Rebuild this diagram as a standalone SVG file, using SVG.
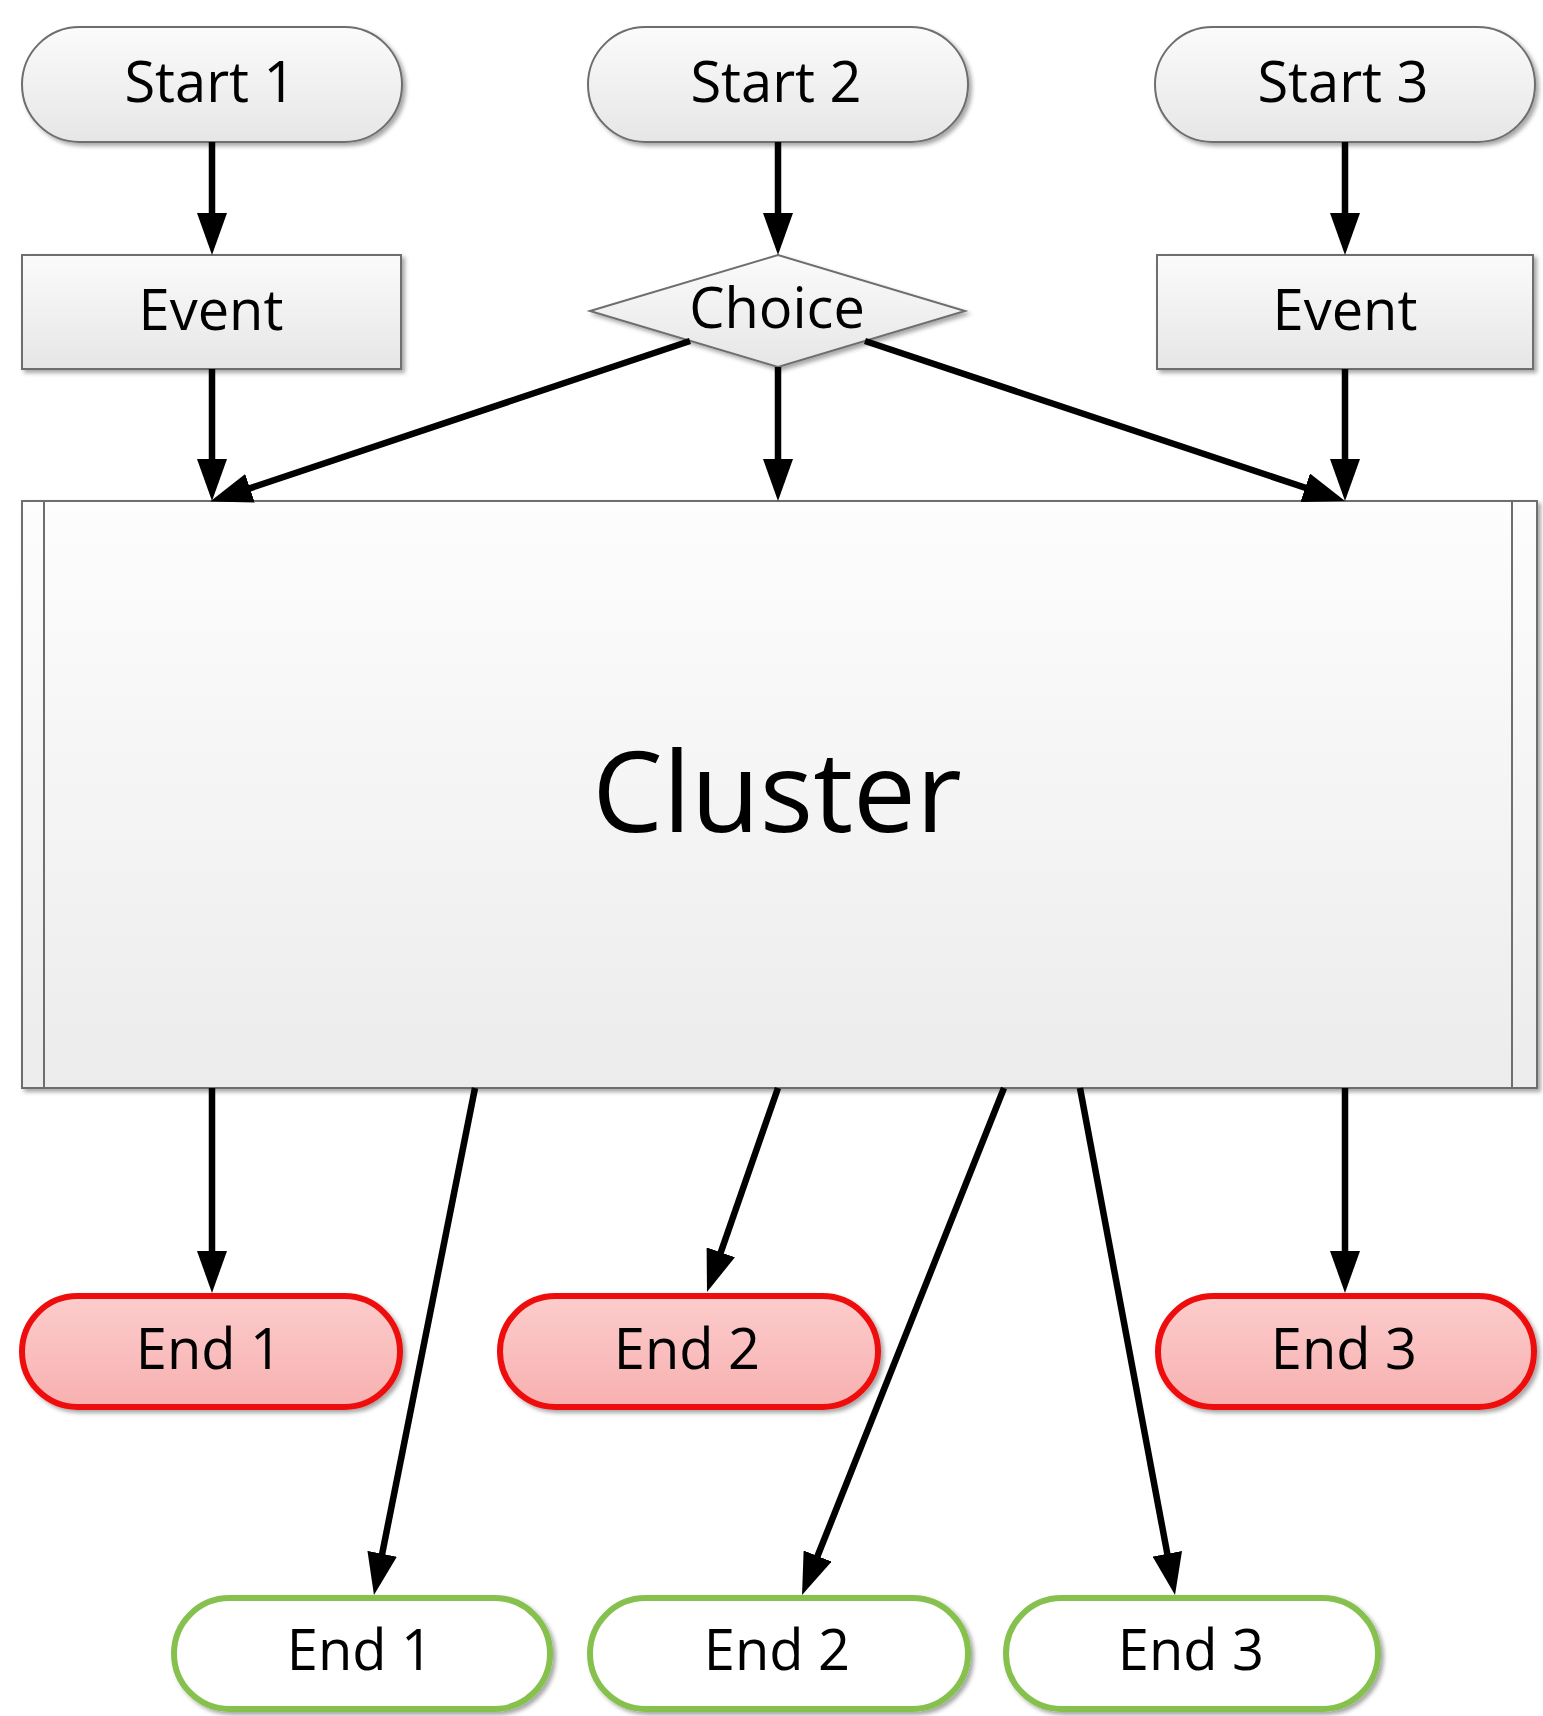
<svg xmlns="http://www.w3.org/2000/svg" width="1543" height="1716" viewBox="0 0 1543 1716">
  <defs>
    <linearGradient id="gGray" x1="0" y1="0" x2="0" y2="1">
      <stop offset="0" stop-color="#fbfbfb"/>
      <stop offset="1" stop-color="#e6e6e6"/>
    </linearGradient>
    <linearGradient id="gCluster" x1="0" y1="0" x2="0" y2="1">
      <stop offset="0" stop-color="#fdfdfd"/>
      <stop offset="1" stop-color="#ececec"/>
    </linearGradient>
    <linearGradient id="gRed" x1="0" y1="0" x2="0" y2="1">
      <stop offset="0" stop-color="#fccccc"/>
      <stop offset="1" stop-color="#f8b0b0"/>
    </linearGradient>
    <filter id="shadow" x="-10%" y="-10%" width="125%" height="130%">
      <feDropShadow dx="3" dy="3" stdDeviation="2" flood-color="#000" flood-opacity="0.35"/>
    </filter>
    <marker id="arrow" markerUnits="userSpaceOnUse" markerWidth="42" markerHeight="30" refX="31" refY="15" orient="auto">
      <path d="M0,0 L42,15 L0,30 Z" fill="#000"/>
    </marker>
  </defs>
  <style>
    .lbl { font-family: "Open Sans", "Liberation Sans", sans-serif; font-size: 56px; fill: #000; text-anchor: middle; }
    .big { font-size: 112px; }
    .plain { fill: url(#gGray); stroke: #6e6e6e; stroke-width: 2; filter: url(#shadow); }
    .red { fill: url(#gRed); stroke: #ee0f0f; stroke-width: 6; filter: url(#shadow); }
    .green { fill: #ffffff; stroke: #86c04e; stroke-width: 6; filter: url(#shadow); }
    .edge { stroke: #000; stroke-width: 6.5; fill: none; marker-end: url(#arrow); }
  </style>

  <rect width="1543" height="1716" fill="#ffffff"/>

  <!-- start terminals -->
  <g id="start1">
    <rect class="plain" x="22" y="27" width="380" height="115" rx="57.5"/>
    <text class="lbl" x="210" y="102">Start 1</text>
  </g>
  <g id="start2">
    <rect class="plain" x="588" y="27" width="380" height="115" rx="57.5"/>
    <text class="lbl" x="776" y="102">Start 2</text>
  </g>
  <g id="start3">
    <rect class="plain" x="1155" y="27" width="380" height="115" rx="57.5"/>
    <text class="lbl" x="1343" y="102">Start 3</text>
  </g>

  <!-- second row -->
  <g id="event1">
    <rect class="plain" x="22" y="255" width="379" height="114"/>
    <text class="lbl" x="211" y="330">Event</text>
  </g>
  <g id="choice">
    <polygon class="plain" points="590,311 778,255 965,311 778,367"/>
    <text class="lbl" x="777" y="328">Choice</text>
  </g>
  <g id="event3">
    <rect class="plain" x="1157" y="255" width="376" height="114"/>
    <text class="lbl" x="1345" y="330">Event</text>
  </g>

  <!-- predefined process block -->
  <g id="cluster">
    <rect x="22" y="501" width="1515" height="587" fill="url(#gCluster)" stroke="#6e6e6e" stroke-width="2" filter="url(#shadow)"/>
    <line x1="44" y1="501" x2="44" y2="1088" stroke="#6e6e6e" stroke-width="2"/>
    <line x1="1512" y1="501" x2="1512" y2="1088" stroke="#6e6e6e" stroke-width="2"/>
    <text class="lbl big" x="777" y="832">Cluster</text>
  </g>

  <!-- red end terminals -->
  <g id="end1-red">
    <rect class="red" x="22" y="1296" width="378" height="111" rx="55.5"/>
    <text class="lbl" x="209" y="1369">End 1</text>
  </g>
  <g id="end2-red">
    <rect class="red" x="500" y="1296" width="378" height="111" rx="55.5"/>
    <text class="lbl" x="687" y="1369">End 2</text>
  </g>
  <g id="end3-red">
    <rect class="red" x="1158" y="1296" width="376" height="111" rx="55.5"/>
    <text class="lbl" x="1344" y="1369">End 3</text>
  </g>

  <!-- green end terminals -->
  <g id="end1-green">
    <rect class="green" x="174" y="1598" width="376" height="111" rx="55.5"/>
    <text class="lbl" x="360" y="1670">End 1</text>
  </g>
  <g id="end2-green">
    <rect class="green" x="590" y="1598" width="378" height="111" rx="55.5"/>
    <text class="lbl" x="777" y="1670">End 2</text>
  </g>
  <g id="end3-green">
    <rect class="green" x="1006" y="1598" width="372" height="111" rx="55.5"/>
    <text class="lbl" x="1191" y="1670">End 3</text>
  </g>

  <!-- connectors -->
  <g id="connectors">
    <line class="edge" x1="212" y1="142" x2="212" y2="244"/>
    <line class="edge" x1="778" y1="142" x2="778" y2="244"/>
    <line class="edge" x1="1345" y1="142" x2="1345" y2="244"/>
    <line class="edge" x1="212" y1="369" x2="212" y2="490"/>
    <line class="edge" x1="690" y1="341" x2="220.6" y2="498.1"/>
    <line class="edge" x1="778" y1="367" x2="778" y2="490"/>
    <line class="edge" x1="865" y1="341" x2="1334.6" y2="497.5"/>
    <line class="edge" x1="1345" y1="369" x2="1345" y2="490"/>
    <line class="edge" x1="212" y1="1088" x2="212" y2="1282"/>
    <line class="edge" x1="475" y1="1088" x2="376.1" y2="1584.2"/>
    <line class="edge" x1="778" y1="1088" x2="710.6" y2="1281.6"/>
    <line class="edge" x1="1004" y1="1088" x2="806.1" y2="1584.8"/>
    <line class="edge" x1="1080" y1="1088" x2="1173" y2="1584.2"/>
    <line class="edge" x1="1345" y1="1088" x2="1345" y2="1282"/>
  </g>
</svg>
